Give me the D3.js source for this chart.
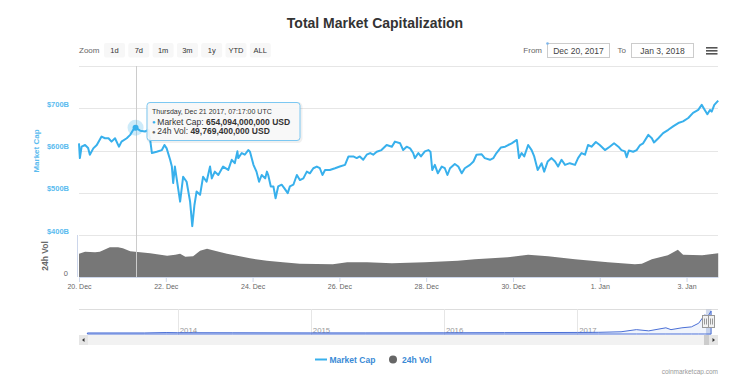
<!DOCTYPE html>
<html>
<head>
<meta charset="utf-8">
<script src="https://cdnjs.cloudflare.com/ajax/libs/d3/7.8.5/d3.min.js"></script>
<style>
body{margin:0;background:#fff;}
svg{display:block;font-family:"Liberation Sans",Arial,sans-serif;}
</style>
</head>
<body>
<svg id="chart" width="750" height="375"></svg>
<script>
// market cap, days after 20 Dec 2017 00:00 UTC -> billions USD
const capDays = [0.00,0.02,0.06,0.14,0.21,0.25,0.33,0.41,0.52,0.60,0.68,0.75,0.83,0.92,0.98,1.10,1.18,1.25,1.30,1.41,1.52,1.60,1.64,1.68,1.79,1.91,1.97,2.02,2.10,2.14,2.17,2.21,2.25,2.33,2.40,2.48,2.56,2.61,2.66,2.71,2.79,2.86,2.94,3.02,3.06,3.13,3.21,3.32,3.44,3.52,3.59,3.65,3.67,3.75,3.82,3.90,3.94,4.02,4.09,4.15,4.21,4.29,4.33,4.36,4.42,4.48,4.53,4.59,4.67,4.73,4.81,4.86,4.94,5.02,5.09,5.17,5.25,5.32,5.40,5.48,5.55,5.61,5.67,5.78,5.90,6.01,6.13,6.21,6.32,6.40,6.47,6.55,6.63,6.71,6.78,6.86,6.97,7.09,7.21,7.28,7.40,7.47,7.55,7.63,7.70,7.74,7.82,7.88,7.97,8.05,8.10,8.14,8.20,8.27,8.36,8.43,8.49,8.55,8.66,8.74,8.82,8.89,9.01,9.09,9.16,9.28,9.35,9.47,9.55,9.62,9.72,9.82,9.89,9.97,10.03,10.09,10.14,10.20,10.26,10.35,10.43,10.49,10.57,10.66,10.72,10.80,10.89,10.97,11.04,11.12,11.20,11.31,11.43,11.50,11.58,11.66,11.73,11.81,11.91,12.00,12.12,12.23,12.33,12.43,12.50,12.58,12.62,12.67,12.77,12.85,12.93,13.00,13.12,13.20,13.25,13.35,13.46,13.58,13.69,13.81,13.92,14.04,14.15,14.27,14.35,14.42,14.48,14.54,14.58,14.64,14.73];
const capValues = [617,582,609,613,606,590,605,613,633,629,629,621,629,609,621,629,637,649,654,647,645,649,625,594,597,601,613,605,578,562,523,562,534,479,538,526,479,421,471,503,495,538,526,562,534,550,542,562,554,578,570,598,582,594,590,601,597,566,550,526,542,534,550,542,515,515,487,515,519,511,499,515,519,542,530,534,550,546,558,562,558,542,554,554,558,562,566,586,586,582,586,578,590,594,590,597,601,613,609,621,617,601,609,605,594,582,594,586,598,601,597,554,566,546,562,558,542,558,568,562,546,558,566,574,590,591,582,578,582,594,607,609,613,617,621,625,582,594,586,613,601,586,554,570,550,574,582,574,562,578,566,570,566,582,594,590,613,609,620,613,601,609,617,609,601,598,584,600,597,601,613,617,637,629,619,629,641,649,657,665,669,677,689,696,708,696,686,696,692,708,718];

// 24h volume, days after 20 Dec 2017 -> billions USD
const volDays = [0.00,0.14,0.37,0.48,0.71,0.90,1.01,1.18,1.41,1.64,2.03,2.22,2.33,2.45,2.63,2.79,2.95,3.13,3.41,3.94,4.33,4.70,5.09,5.85,6.18,6.64,7.21,7.97,8.73,9.12,9.88,10.35,10.81,11.43,12.19,12.81,12.97,13.20,13.57,13.80,13.92,14.36,14.73];
const volValues = [46,50,49,50,59,59,57,51,49,47,42,44,46,40,41,52,56,52,46,37,32,29,26,25,29,29,27,29,32,35,39,44,41,35,29,25,26,35,43,54,44,43,47];

// navigator: whole history of total market cap, billions USD
const navDates = ["2013-04-28","2013-10-01","2013-11-30","2014-01-01","2014-06-01","2015-01-01","2015-06-01","2016-01-01","2016-06-15","2017-01-01","2017-03-01","2017-05-01","2017-06-12","2017-07-16","2017-09-01","2017-09-15","2017-10-15","2017-11-10","2017-11-30","2017-12-17","2017-12-22","2018-01-03"];
const navValues = [1.5,2,15,10,8,4,4,7,12,18,22,40,110,70,170,110,170,200,320,600,480,718];

const dateTicks = ["2017-12-20","2017-12-22","2017-12-24","2017-12-26","2017-12-28","2017-12-30","2018-01-01","2018-01-03"];
const capTicks = [400,500,600,700,800];
const capLabelTicks = [400,500,600,700];
const navYears = ["2014-01-01","2015-01-01","2016-01-01","2017-01-01"];
const zoomButtons = ["1d","7d","1m","3m","1y","YTD","ALL"];

const hoverTime = Date.UTC(2017,11,21,7,17,0);
const hoverCap = 654094000000;
const hoverVol = 49769400000;

const svg = d3.select("#chart");
const blue = "#38b0ec", gray = "#777";
const start = Date.UTC(2017,11,20);
const dayMs = 864e5;
const left = 79, right = 718;

const x = d3.scaleUtc().domain([start, start + 14.725*dayMs]).range([left, right]);
const y = d3.scaleLinear().domain([400,800]).range([235,66]);
const yv = d3.scaleLinear().domain([0,83]).range([277,235]);

const capData = capDays.map((d,i) => ({t: start + d*dayMs, v: capValues[i]}));
const volData = volDays.map((d,i) => ({t: start + d*dayMs, v: volValues[i]}));

// title
svg.append("text").attr("x",375).attr("y",28).attr("text-anchor","middle")
    .attr("font-size",14).attr("font-weight","bold").attr("fill","#333")
    .text("Total Market Capitalization");

// range selector
svg.append("text").attr("x",79).attr("y",53).attr("font-size",8).attr("fill","#666").text("Zoom");
const btn = svg.append("g").selectAll("g").data(zoomButtons).enter().append("g")
    .attr("transform",(d,i) => `translate(${104 + i*24.3},43)`);
btn.append("rect").attr("width",21).attr("height",14.5).attr("rx",2).attr("fill","#f7f7f7");
btn.append("text").attr("x",10.5).attr("y",10).attr("text-anchor","middle")
    .attr("font-size",7.5).attr("fill","#333").text(d => d);

svg.append("text").attr("x",542).attr("y",53).attr("text-anchor","end").attr("font-size",8).attr("fill","#666").text("From");
svg.append("rect").attr("x",547.5).attr("y",43.5).attr("width",62).attr("height",14).attr("fill","#fff").attr("stroke","#ccc");
svg.append("text").attr("x",578.5).attr("y",53.5).attr("text-anchor","middle").attr("font-size",8.5).attr("fill","#444").text("Dec 20, 2017");
svg.append("circle").attr("cx",547.5).attr("cy",43.5).attr("r",1.3).attr("fill","#7cb5ec");
svg.append("text").attr("x",626).attr("y",53).attr("text-anchor","end").attr("font-size",8).attr("fill","#666").text("To");
svg.append("rect").attr("x",631.5).attr("y",43.5).attr("width",62).attr("height",14).attr("fill","#fff").attr("stroke","#ccc");
svg.append("text").attr("x",662.5).attr("y",53.5).attr("text-anchor","middle").attr("font-size",8.5).attr("fill","#444").text("Jan 3, 2018");
[0,1,2].forEach(i => svg.append("rect").attr("x",706).attr("y",47 + i*3).attr("width",11.5).attr("height",1.6).attr("fill","#555"));

// grid + y axis of market cap
svg.append("g").selectAll("line").data(capTicks).enter().append("line")
    .attr("x1",left).attr("x2",right).attr("y1",d => Math.round(y(d))+0.5).attr("y2",d => Math.round(y(d))+0.5)
    .attr("stroke","#e6e6e6");
svg.append("g").selectAll("text").data(capLabelTicks).enter().append("text")
    .attr("x",69).attr("y",d => y(d) - 1.5).attr("text-anchor","end")
    .attr("font-size",7.5).attr("font-weight","bold").attr("fill","#5bbcef")
    .text(d => "$" + d + "B");
svg.append("text").attr("transform","translate(39,151) rotate(-90)").attr("text-anchor","middle")
    .attr("font-size",8).attr("font-weight","bold").attr("fill","#5bbcef").text("Market Cap");

// volume panel
svg.append("line").attr("x1",77.5).attr("x2",77.5).attr("y1",235).attr("y2",277).attr("stroke","#ccd6eb");
svg.append("text").attr("x",68).attr("y",276).attr("text-anchor","end").attr("font-size",7.5).attr("fill","#666").text("0");
svg.append("text").attr("transform","translate(48,256) rotate(-90)").attr("text-anchor","middle")
    .attr("font-size",8.5).attr("font-weight","bold").attr("fill","#666").text("24h Vol");

svg.append("path").datum(volData)
    .attr("fill",gray)
    .attr("d", d3.area().x(d => x(d.t)).y0(yv(0)).y1(d => yv(d.v)));

// x axis
const xAxis = svg.append("g").attr("transform","translate(0,277)")
    .call(d3.axisBottom(x).tickValues(dateTicks.map(d => new Date(d + "T00:00:00Z")))
        .tickFormat(d3.utcFormat("%-d. %b")).tickSize(5).tickSizeOuter(0));
xAxis.select(".domain").attr("stroke","#ccd6eb");
xAxis.selectAll(".tick line").attr("stroke","#ccd6eb");
xAxis.selectAll(".tick text").attr("font-size",7).attr("fill","#666").attr("font-family","Liberation Sans, Arial").attr("dy","0.55em");

// crosshair
const hx = x(hoverTime);
svg.append("line").attr("x1",Math.round(hx)+0.5).attr("x2",Math.round(hx)+0.5).attr("y1",66).attr("y2",277).attr("stroke","#ccc");

// market cap line
svg.append("path").datum(capData)
    .attr("fill","none").attr("stroke",blue).attr("stroke-width",2).attr("stroke-linejoin","round")
    .attr("d", d3.line().x(d => x(d.t)).y(d => y(d.v)));

// hover marker
const hy = y(hoverCap/1e9);
svg.append("circle").attr("cx",hx).attr("cy",hy).attr("r",8).attr("fill",blue).attr("opacity",0.25);
svg.append("circle").attr("cx",hx).attr("cy",hy).attr("r",3).attr("fill",blue);

// tooltip
const tip = svg.append("g").attr("transform","translate(147,102.5)");
tip.append("rect").attr("x",1).attr("y",1).attr("width",153).attr("height",38).attr("rx",3).attr("fill","none").attr("stroke","#000").attr("stroke-opacity",0.06).attr("stroke-width",3);
tip.append("rect").attr("width",153).attr("height",38).attr("rx",3).attr("fill","rgba(247,247,247,0.92)").attr("stroke","#7cc8f2");
tip.append("text").attr("x",5).attr("y",11.5).attr("font-size",7).attr("fill","#333")
    .text(d3.utcFormat("%A, %b %d %Y, %H:%M:%S UTC")(new Date(hoverTime)));
const rows = [
    {c: blue, name: "Market Cap: ", v: d3.format(",")(hoverCap) + " USD"},
    {c: "#666", name: "24h Vol: ", v: d3.format(",")(hoverVol) + " USD"}
];
rows.forEach((r,i) => {
    const t = tip.append("text").attr("x",5).attr("y",22 + i*9.8).attr("font-size",8.5).attr("fill","#333");
    t.append("tspan").attr("fill",r.c).attr("font-size",6).attr("dy","-0.5").text("\u25CF ");
    t.append("tspan").attr("dy","0.5").text(r.name);
    t.append("tspan").attr("font-weight","bold").text(r.v);
});

// navigator
const xn = d3.scaleUtc().domain([Date.UTC(2013,3,5), Date.UTC(2018,0,22)]).range([left, right]);
const yn = d3.scaleLinear().domain([0,720]).range([333,311]);
const navData = navDates.map((d,i) => ({t: new Date(d + "T00:00:00Z"), v: navValues[i]}));
svg.append("line").attr("x1",left).attr("x2",right).attr("y1",309.5).attr("y2",309.5).attr("stroke","#ddd");
svg.append("g").selectAll("line").data(navYears).enter().append("line")
    .attr("x1",d => Math.round(xn(new Date(d)))+0.5).attr("x2",d => Math.round(xn(new Date(d)))+0.5)
    .attr("y1",309).attr("y2",335).attr("stroke","#e6e6e6");
svg.append("g").selectAll("text").data(navYears).enter().append("text")
    .attr("x",d => xn(new Date(d)) + 2).attr("y",333).attr("font-size",7.8).attr("fill","#999")
    .text(d => d.slice(0,4));
const z0 = xn(new Date(start)), z1 = xn(new Date(start + 14.725*dayMs));
svg.append("rect").attr("x",z0).attr("y",309.5).attr("width",z1 - z0).attr("height",25.5).attr("fill","rgba(102,133,194,0.3)");
svg.append("path").datum(navData)
    .attr("fill","rgba(69,114,215,0.08)").attr("stroke","#4a6fd6").attr("stroke-width",1)
    .attr("d", d3.area().x(d => xn(d.t)).y0(334).y1(d => yn(d.v)));
[z0 - 3.5, z1 - 3.5].forEach(hxn => {
    const h = svg.append("g").attr("transform",`translate(${Math.round(hxn)+0.5},315.5)`);
    h.append("rect").attr("width",6).attr("height",12).attr("fill","#f2f2f2").attr("stroke","#999");
    h.append("line").attr("x1",2).attr("x2",2).attr("y1",3).attr("y2",9).attr("stroke","#999");
    h.append("line").attr("x1",4).attr("x2",4).attr("y1",3).attr("y2",9).attr("stroke","#999");
});

// scrollbar
svg.append("rect").attr("x",left).attr("y",335).attr("width",right-left).attr("height",10).attr("fill","#f2f2f2");
svg.append("rect").attr("x",z0 - 2).attr("y",335).attr("width",z1 - z0 + 2).attr("height",10).attr("fill","#ccc");
svg.append("rect").attr("x",left).attr("y",335).attr("width",9).attr("height",10).attr("fill","#e6e6e6");
svg.append("rect").attr("x",right-9).attr("y",335).attr("width",9).attr("height",10).attr("fill","#e6e6e6");
svg.append("path").attr("d",`M${left+5.5},338 L${left+5.5},342 L${left+3},340 Z`).attr("fill","#333");
svg.append("path").attr("d",`M${right-5.5},338 L${right-5.5},342 L${right-3},340 Z`).attr("fill","#333");

// legend
svg.append("line").attr("x1",315).attr("x2",327).attr("y1",359.5).attr("y2",359.5).attr("stroke",blue).attr("stroke-width",2);
svg.append("text").attr("x",329.5).attr("y",362.5).attr("font-size",8.5).attr("font-weight","bold").attr("fill","#3a8ad6").text("Market Cap");
svg.append("circle").attr("cx",393).attr("cy",359.5).attr("r",4).attr("fill","#666");
svg.append("text").attr("x",402).attr("y",362.5).attr("font-size",8.5).attr("font-weight","bold").attr("fill","#3a8ad6").text("24h Vol");

// credit
svg.append("text").attr("x",718).attr("y",374).attr("text-anchor","end").attr("font-size",6.5).attr("fill","#999").text("coinmarketcap.com");
</script>
</body>
</html>
